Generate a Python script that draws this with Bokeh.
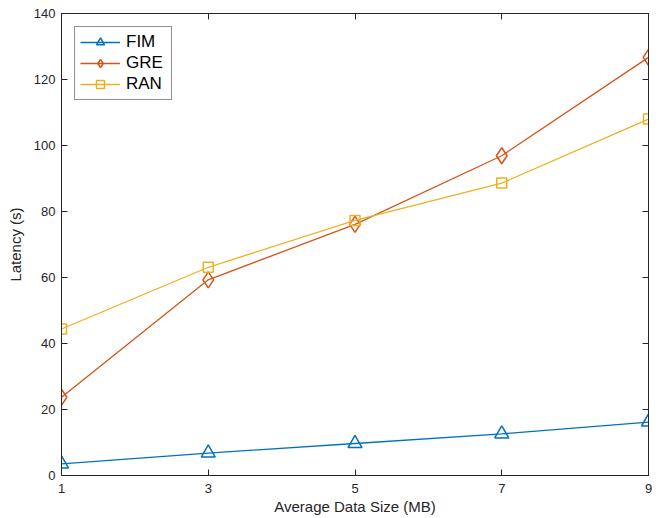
from bokeh.plotting import figure
from bokeh.models import LinearAxis, FixedTicker, Range1d, Legend, LegendItem, CustomJSTickFormatter
from bokeh.embed import file_html
from bokeh.resources import INLINE

sizes = [1, 3, 5, 7, 9]
fim = [3.5, 6.8, 9.7, 12.6, 16.2]
gre = [23.7, 59.3, 76.1, 96.9, 126.7]
ran = [44.4, 63.1, 77.3, 88.6, 108.0]
x_ticks = [1, 3, 5, 7, 9]
y_ticks = [0, 20, 40, 60, 80, 100, 120, 140]

FONT = "Liberation Sans"
AX = "#262626"
C_FIM, C_GRE, C_RAN = "#0072BD", "#D95319", "#EDB120"

p = figure(frame_width=587, frame_height=462, output_backend="svg", toolbar_location=None,
           x_range=Range1d(1, 9), y_range=Range1d(0, 140),
           min_border_left=61, min_border_right=7, min_border_top=13, min_border_bottom=43)
p.xgrid.visible = False
p.ygrid.visible = False
p.outline_line_color = AX
p.outline_line_width = 1
p.background_fill_color = "white"
p.border_fill_color = "white"

def style_axis(ax, ticks, labels=True):
    ax.ticker = FixedTicker(ticks=ticks)
    ax.minor_tick_line_color = None
    ax.major_tick_in = 6
    ax.major_tick_out = 0
    ax.axis_line_color = AX
    ax.major_tick_line_color = AX
    ax.major_label_text_color = AX
    ax.major_label_text_font = FONT
    ax.major_label_text_font_size = "13px"
    ax.axis_label_text_font = FONT
    ax.axis_label_text_font_size = "15px"
    ax.axis_label_text_font_style = "normal"
    ax.axis_label_text_color = AX
    if not labels:
        ax.formatter = CustomJSTickFormatter(code="return '';")
        ax.major_label_standoff = 0

style_axis(p.xaxis[0], x_ticks)
style_axis(p.yaxis[0], y_ticks)
p.xaxis[0].axis_label = "Average Data Size (MB)"
p.yaxis[0].axis_label = "Latency (s)"
p.xaxis[0].major_label_standoff = 8
p.xaxis[0].axis_label_standoff = 2
p.yaxis[0].major_label_standoff = 6
p.yaxis[0].axis_label_standoff = 7

top = LinearAxis()
style_axis(top, x_ticks, labels=False)
p.add_layout(top, "above")
right = LinearAxis()
style_axis(right, y_ticks, labels=False)
p.add_layout(right, "right")

lw = 1.3
l1 = p.line(sizes, fim, line_color=C_FIM, line_width=lw)
m1 = p.scatter(sizes, fim, marker="triangle", size=14, line_color=C_FIM, fill_alpha=0, line_width=1.5)
l2 = p.line(sizes, gre, line_color=C_GRE, line_width=lw)
m2 = p.scatter(sizes, gre, marker="diamond", size=16, line_color=C_GRE, fill_alpha=0, line_width=1.5)
l3 = p.line(sizes, ran, line_color=C_RAN, line_width=lw)
m3 = p.scatter(sizes, ran, marker="square", size=10, line_color=C_RAN, fill_alpha=0, line_width=1.5)

legend = Legend(items=[
    LegendItem(label="FIM", renderers=[l1, m1]),
    LegendItem(label="GRE", renderers=[l2, m2]),
    LegendItem(label="RAN", renderers=[l3, m3]),
], location="top_left")
legend.margin = 13
legend.padding = 5
legend.spacing = 1
legend.glyph_width = 40
legend.glyph_height = 20
legend.label_standoff = 6
legend.label_width = 40
legend.label_text_font = FONT
legend.label_text_font_size = "17px"
legend.label_text_color = "black"
legend.border_line_color = AX
legend.border_line_width = 1
legend.background_fill_color = "white"
p.add_layout(legend, "center")

open("out.html", "w").write(file_html(p, INLINE))
